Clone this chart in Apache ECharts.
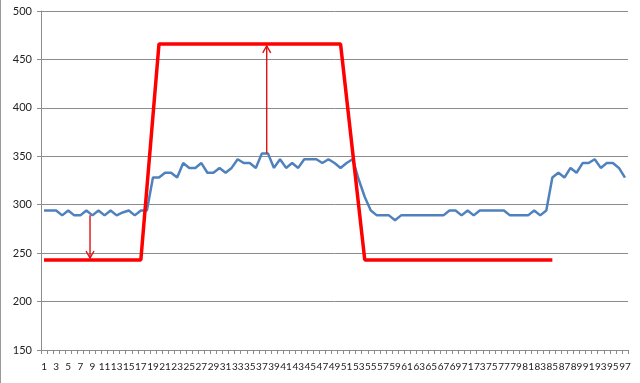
<!DOCTYPE html>
<html>
<head>
<meta charset="utf-8">
<script src="https://cdn.jsdelivr.net/npm/echarts@6/dist/echarts.min.js"></script>
<style>
html,body{margin:0;padding:0;background:#fff;}
#c{width:640px;height:383px;box-sizing:border-box;border-left:1px solid #9a9a9a;}
</style>
</head>
<body>
<div id="c"></div>
<script>
// Categories 1..97
const categories = [];
for (let i = 1; i <= 97; i++) categories.push(String(i));

// Blue measured series (one value per category)
const blueValues = [
  294,294,294,289,294,289,289,294,289,294,
  289,294,289,292,294,289,294,294,328,328,
  333,333,328,343,338,338,343,333,333,338,
  333,338,347,343,343,338,353,353,338,347,
  338,343,338,347,347,347,343,347,343,338,
  343,347,326,308,294,289,289,289,284,289,
  289,289,289,289,289,289,289,294,294,289,
  294,289,294,294,294,294,294,289,289,289,
  289,294,289,294,328,333,328,338,333,343,
  343,347,338,343,343,338,328
];

// Red step profile (category, value)
const redCats = [1, 17, 20, 50, 54, 85];
const redValues = [243, 243, 466, 466, 243, 243];

// Annotation arrows: x position (category units), start value, end value
const arrowX = [8.6, 37.8];
const arrowFrom = [289, 353];
const arrowTo = [245, 464];

const yTicks = { min: 150, max: 500, interval: 50 };

const redData = redCats.map((c, i) => [String(c), redValues[i]]);
const arrowData = arrowX.map((x, i) => [x, arrowFrom[i], arrowTo[i]]);

const gray = '#8c8c8c';
const chart = echarts.init(document.getElementById('c'), null, { renderer: 'canvas' });
chart.setOption({
  animation: false,
  grid: { left: 40, right: 12, top: 11, bottom: 33 },
  xAxis: [{
    type: 'category',
    data: categories,
    boundaryGap: true,
    axisLine: { lineStyle: { color: gray, width: 1 } },
    axisTick: { show: true, interval: 0, length: 4, lineStyle: { color: gray } },
    axisLabel: { interval: 1, fontSize: 10, color: '#222', margin: 12, fontFamily: 'Lato' },
    splitLine: { show: false }
  }, {
    type: 'value',
    min: 0.5, max: 97.5,
    show: false
  }],
  yAxis: {
    type: 'value',
    min: yTicks.min, max: yTicks.max, interval: yTicks.interval,
    axisLine: { show: true, lineStyle: { color: gray, width: 1 } },
    axisTick: { show: true, length: 4, lineStyle: { color: gray } },
    axisLabel: { fontSize: 11, color: '#222', margin: 9, fontFamily: 'Lato' },
    splitLine: { show: true, lineStyle: { color: gray, width: 1 } }
  },
  series: [{
    type: 'line',
    data: blueValues,
    showSymbol: false,
    lineStyle: { color: '#4f81bd', width: 2.5 },
    itemStyle: { color: '#4f81bd' },
    z: 2
  }, {
    type: 'line',
    data: redData,
    showSymbol: false,
    lineStyle: { color: '#ff0000', width: 3.5 },
    itemStyle: { color: '#ff0000' },
    z: 3
  }, {
    type: 'custom',
    xAxisIndex: 1,
    data: arrowData,
    z: 4,
    renderItem: function (params, api) {
      const x = api.value(0);
      const p1 = api.coord([x, api.value(1)]);
      const p2 = api.coord([x, api.value(2)]);
      const dir = p2[1] > p1[1] ? 1 : -1;
      const hl = 7, hw = 4;
      const style = { stroke: '#dd1111', lineWidth: 1.4, fill: null };
      return {
        type: 'group',
        children: [{
          type: 'line',
          shape: { x1: p1[0], y1: p1[1], x2: p2[0], y2: p2[1] },
          style: style
        }, {
          type: 'polyline',
          shape: { points: [[p2[0] - hw, p2[1] - dir * hl], [p2[0], p2[1]], [p2[0] + hw, p2[1] - dir * hl]] },
          style: style
        }]
      };
    }
  }]
});
</script>
</body>
</html>
